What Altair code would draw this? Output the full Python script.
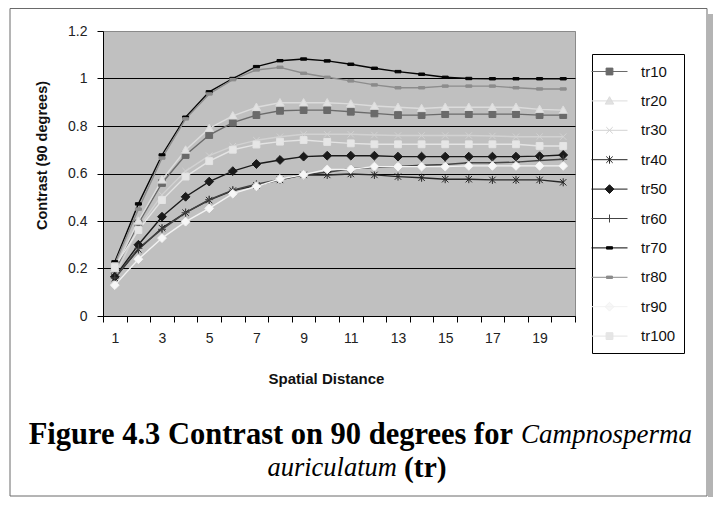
import altair as alt
import pandas as pd

# ---------------- data ----------------
distance = list(range(1, 21))
series_names = ["tr10", "tr20", "tr30", "tr40", "tr50", "tr60", "tr70", "tr80", "tr90", "tr100"]

tr10 = [0.19, 0.39, 0.56, 0.678, 0.762, 0.814, 0.846, 0.864, 0.867, 0.867,
        0.86, 0.853, 0.846, 0.846, 0.85, 0.85, 0.85, 0.85, 0.846, 0.846]
tr20 = [0.20, 0.40, 0.573, 0.699, 0.79, 0.843, 0.879, 0.898, 0.898, 0.898,
        0.893, 0.884, 0.879, 0.874, 0.879, 0.879, 0.879, 0.879, 0.87, 0.867]
tr30 = [0.17, 0.37, 0.51, 0.61, 0.675, 0.715, 0.74, 0.755, 0.765, 0.765,
        0.765, 0.762, 0.76, 0.76, 0.76, 0.76, 0.758, 0.755, 0.755, 0.755]
tr40 = [0.16, 0.28, 0.37, 0.435, 0.488, 0.528, 0.55, 0.573, 0.594, 0.594,
        0.598, 0.594, 0.587, 0.582, 0.576, 0.576, 0.573, 0.573, 0.573, 0.563]
tr50 = [0.165, 0.30, 0.418, 0.502, 0.566, 0.61, 0.64, 0.657, 0.671, 0.675,
        0.675, 0.675, 0.671, 0.671, 0.671, 0.671, 0.671, 0.671, 0.673, 0.678]
tr60 = [0.16, 0.285, 0.365, 0.435, 0.49, 0.53, 0.555, 0.575, 0.595, 0.605,
        0.62, 0.625, 0.63, 0.635, 0.638, 0.645, 0.645, 0.648, 0.655, 0.66]
tr70 = [0.228, 0.472, 0.678, 0.837, 0.944, 1.0, 1.05, 1.075, 1.082, 1.074,
        1.06, 1.043, 1.029, 1.018, 1.005, 1.0, 0.999, 0.999, 0.999, 0.999]
tr80 = [0.22, 0.45, 0.665, 0.83, 0.935, 0.995, 1.036, 1.047, 1.022, 1.005,
        0.99, 0.973, 0.961, 0.961, 0.968, 0.968, 0.968, 0.961, 0.956, 0.956]
tr90 = [0.13, 0.239, 0.328, 0.397, 0.453, 0.515, 0.546, 0.577, 0.595, 0.617,
        0.618, 0.629, 0.629, 0.629, 0.629, 0.632, 0.632, 0.632, 0.632, 0.632]
tr100 = [0.208, 0.362, 0.488, 0.587, 0.652, 0.70, 0.722, 0.734, 0.741, 0.733,
         0.727, 0.723, 0.723, 0.723, 0.723, 0.723, 0.723, 0.723, 0.716, 0.716]

series_values = [tr10, tr20, tr30, tr40, tr50, tr60, tr70, tr80, tr90, tr100]

y_ticks = [0, 0.2, 0.4, 0.6, 0.8, 1.0, 1.2]
x_tick_marks = [i + 0.5 for i in range(0, 21)]

y_title = "Contrast (90 degrees)"
x_title = "Spatial Distance"
caption_line1_a = "Figure 4.3 Contrast on 90 degrees for"
caption_line1_b = "Campnosperma"
caption_line2_a = "auriculatum"
caption_line2_b = "(tr)"

# ---------------- styles ----------------
line_colors = ["#6a6a6a", "#dcdcdc", "#d2d2d2", "#262626", "#1a1a1a",
               "#444444", "#050505", "#8c8c8c", "#f2f2f2", "#e4e4e4"]
marker_fill = ["#6a6a6a", "#e2e2e2", "#d2d2d2", "#262626", "#1a1a1a",
               "#444444", "#050505", "#8c8c8c", "#f7f7f7", "#e6e6e6"]


def fmt(v):
    return ("%.3f" % v).rstrip("0").rstrip(".")


def marker_path(kind, s):
    if kind == "square":
        a = 0.85 * s
        return f"M{fmt(-a)},{fmt(-a)}H{fmt(a)}V{fmt(a)}H{fmt(-a)}Z"
    if kind == "triangle":
        a = 1.05 * s
        b = 0.8 * s
        return f"M0,{fmt(-a)}L{fmt(a)},{fmt(b)}H{fmt(-a)}Z"
    if kind == "x":
        a = 0.8 * s
        return f"M{fmt(-a)},{fmt(-a)}L{fmt(a)},{fmt(a)}M{fmt(-a)},{fmt(a)}L{fmt(a)},{fmt(-a)}"
    if kind == "asterisk":
        a = 0.8 * s
        c = 1.0 * s
        return (f"M{fmt(-a)},{fmt(-a)}L{fmt(a)},{fmt(a)}M{fmt(-a)},{fmt(a)}L{fmt(a)},{fmt(-a)}"
                f"M0,{fmt(-c)}V{fmt(c)}")
    if kind == "diamond":
        a = 1.1 * s
        return f"M0,{fmt(-a)}L{fmt(a)},0L0,{fmt(a)}L{fmt(-a)},0Z"
    if kind == "plus":
        a = 1.0 * s
        return f"M{fmt(-a)},0H{fmt(a)}M0,{fmt(-a)}V{fmt(a)}"
    if kind == "dash":
        a = 0.75 * s
        b = 0.3 * s
        return f"M{fmt(-a)},{fmt(-b)}H{fmt(a)}V{fmt(b)}H{fmt(-a)}Z"
    return ""


marker_kinds = ["square", "triangle", "x", "asterisk", "diamond",
                "plus", "dash", "dash", "diamond", "square"]

chart_size = 64          # 4 px per path unit
legend_size = 324        # 9 px per path unit
chart_paths = [marker_path(k, 1.0) for k in marker_kinds]
legend_paths = ["M-2,0H2" + marker_path(k, 4.0 / 9.0) for k in marker_kinds]

# ---------------- table ----------------
rows = []
for name, vals in zip(series_names, series_values):
    for d, v in zip(distance, vals):
        rows.append({"distance": d, "series": name, "contrast": v})
df = pd.DataFrame(rows)

FONT = "Liberation Sans"
SERIF = "Liberation Serif"

x_enc = alt.X(
    "distance:Q",
    scale=alt.Scale(domain=[0.5, 20.5], nice=False, zero=False),
    axis=alt.Axis(
        values=x_tick_marks,
        labelExpr="(datum.value < 20 && (datum.value + 0.5) % 2 == 1) ? toString(datum.value + 0.5) : ''",
        labelOffset=11.8,
        labelFlush=False,
        labelOverlap=False,
        labelBound=False,
        tickSize=6,
        tickColor="#000000",
        domainColor="#000000",
        labelFont=FONT,
        labelFontSize=14,
        labelColor="#222222",
        labelPadding=9,
        grid=False,
        title=x_title,
        titleFont=FONT,
        titleFontSize=15,
        titleFontWeight="bold",
        titleColor="#111111",
        titleX=223,
        titleY=62,
        titleAnchor="middle",
        titleAlign="center",
        titleBaseline="middle",
    ),
)

y_enc = alt.Y(
    "contrast:Q",
    scale=alt.Scale(domain=[0, 1.2], nice=False, zero=True),
    axis=alt.Axis(
        values=y_ticks,
        format="~g",
        grid=True,
        gridColor=alt.condition("datum.value > 1.1", alt.value("#8a8a8a"), alt.value("#000000")),
        gridWidth=1,
        tickSize=6,
        tickColor="#000000",
        domainColor="#000000",
        labelFont=FONT,
        labelFontSize=14,
        labelColor="#222222",
        labelPadding=10,
        title=y_title,
        titleFont=FONT,
        titleFontSize=14.5,
        titleFontWeight="bold",
        titleColor="#111111",
        titleAngle=270,
        titleX=-61,
        titleY=124,
        titleAlign="center",
        titleBaseline="middle",
    ),
)

base = alt.Chart(df)

lines = base.mark_line(strokeWidth=1.4).encode(
    x=x_enc,
    y=y_enc,
    color=alt.Color("series:N", scale=alt.Scale(domain=series_names, range=line_colors), legend=None),
)

points = base.mark_point(size=chart_size, opacity=1, strokeWidth=1, filled=True).encode(
    x=x_enc,
    y=y_enc,
    shape=alt.Shape("series:N", scale=alt.Scale(domain=series_names, range=chart_paths), legend=None),
    fill=alt.Fill("series:N", scale=alt.Scale(domain=series_names, range=marker_fill), legend=None),
    stroke=alt.Stroke("series:N", scale=alt.Scale(domain=series_names, range=line_colors), legend=None),
)

leg = alt.Legend(
    title=None,
    orient="none",
    legendX=489,
    legendY=23,
    padding=8,
    strokeColor="#000000",
    fillColor="#ffffff",
    labelFont=FONT,
    labelFontSize=15,
    labelColor="#111111",
    labelOffset=22,
    rowPadding=11.4,
    symbolSize=legend_size,
    symbolStrokeWidth=1,
)

legend_layer = base.transform_filter("false").mark_point(
    size=legend_size, opacity=1, strokeWidth=1, filled=True
).encode(
    x=x_enc,
    y=y_enc,
    shape=alt.Shape("series:N", scale=alt.Scale(domain=series_names, range=legend_paths), legend=leg),
    fill=alt.Fill("series:N", scale=alt.Scale(domain=series_names, range=marker_fill), legend=leg),
    stroke=alt.Stroke("series:N", scale=alt.Scale(domain=series_names, range=line_colors), legend=leg),
)

one = pd.DataFrame({"k": [0]})

frame = alt.Chart(one).mark_rect(fillOpacity=0, stroke="#6a6a6a", strokeWidth=1).encode(
    x=alt.value(-93), x2=alt.value(604), y=alt.value(-22.5), y2=alt.value(465)
)
shadow = alt.Chart(one).mark_rect(fill="#b4b4b4", stroke=None).encode(
    x=alt.value(605), x2=alt.value(610), y=alt.value(-17), y2=alt.value(466)
)


def cap(text, x, y, align, italic, bold, size):
    return alt.Chart(pd.DataFrame({"t": [text]})).mark_text(
        font=SERIF,
        fontSize=size,
        fontWeight="bold" if bold else "normal",
        fontStyle="italic" if italic else "normal",
        align=align,
        baseline="middle",
        color="#000000",
    ).encode(text="t:N", x=alt.value(x), y=alt.value(y))


cap1 = cap(caption_line1_a, 410, 404, "right", False, True, 30.5)
cap2 = cap(caption_line1_b, 418, 404, "left", True, False, 27)
cap3 = cap(caption_line2_a, 294, 437, "right", True, False, 26.5)
cap4 = cap(caption_line2_b, 301, 437, "left", False, True, 29.5)

chart = alt.layer(
    shadow, frame, lines, points, legend_layer, cap1, cap2, cap3, cap4
).resolve_scale(
    shape="independent", fill="independent", stroke="independent"
).properties(
    width=472,
    height=285,
    autosize=alt.AutoSizeParams(type="none"),
    padding={"left": 95, "top": 23, "right": 138, "bottom": 181},
    background="#ffffff",
).configure_view(
    fill="#c0c0c0", stroke="#8a8a8a", strokeWidth=1
)

chart.save("out.html", embed_options={"renderer": "svg", "actions": False})
